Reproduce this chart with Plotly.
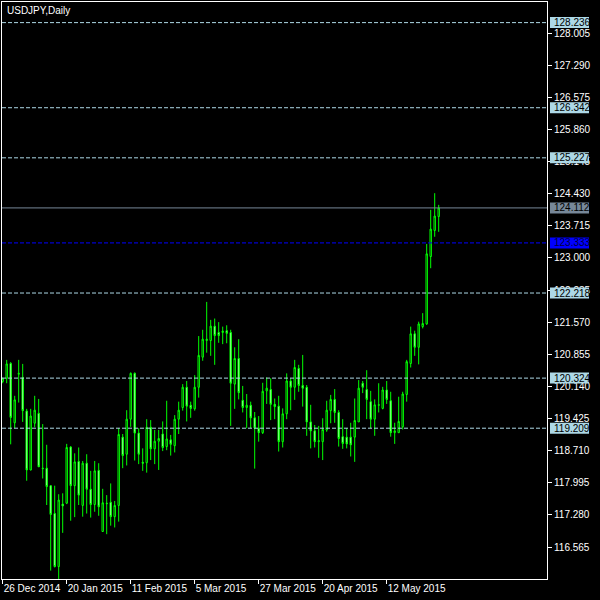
import plotly.graph_objects as go

# ---- data (USDJPY daily) ----
opens = [120.25, 120.32, 120.65, 119.33, 120.41, 120.34, 119.59, 118.28, 119.32, 119.54,
         118.32, 118.32, 117.93, 117.31, 116.13, 117.52, 117.54, 118.79, 117.93, 118.47,
         117.49, 118.43, 117.85, 117.51, 118.27, 116.91, 117.54, 117.56, 117.24, 117.49,
         119.01, 118.63, 119.41, 120.43, 119.10, 118.45, 118.44, 119.23, 118.75, 118.92,
         119.08, 118.80, 118.95, 118.82, 119.41, 119.67, 120.12, 119.72, 119.64, 120.12,
         120.79, 121.16, 121.16, 121.48, 121.34, 121.34, 121.38, 121.34, 120.19, 120.76,
         119.83, 119.67, 119.72, 119.44, 119.21, 119.11, 120.04, 120.07, 119.74, 119.70,
         118.91, 119.53, 120.26, 120.12, 120.54, 120.16, 120.12, 119.35, 119.15, 118.91,
         118.91, 119.17, 119.60, 119.85, 119.56, 119.02, 119.01, 119.01, 119.01, 119.35,
         120.21, 120.07, 119.80, 119.41, 119.72, 119.65, 120.06, 119.82, 119.11, 119.11,
         119.24, 119.96, 120.65, 121.31, 121.01, 121.47, 121.53, 123.03, 123.61, 123.92]
highs = [120.33, 120.73, 120.68, 119.93, 120.73, 120.64, 119.64, 119.64, 119.93, 119.86,
         119.30, 118.84, 117.93, 117.93, 117.74, 117.76, 118.86, 118.81, 118.65, 118.78,
         118.48, 118.63, 118.26, 118.48, 118.43, 117.86, 117.72, 117.98, 117.59, 119.21,
         119.08, 119.61, 120.45, 120.45, 119.21, 118.76, 119.41, 119.39, 119.17, 119.17,
         119.36, 119.82, 119.06, 119.50, 119.80, 120.19, 120.26, 119.80, 120.39, 121.26,
         121.40, 122.02, 121.62, 121.65, 121.57, 121.47, 121.50, 121.40, 121.01, 121.19,
         120.15, 119.97, 119.80, 119.57, 119.48, 120.22, 120.34, 120.32, 119.87, 119.93,
         119.65, 120.43, 120.32, 120.73, 120.62, 120.84, 120.17, 119.73, 119.28, 119.26,
         119.43, 119.82, 119.95, 120.08, 119.61, 119.41, 119.21, 119.33, 119.87, 120.28,
         120.26, 120.50, 120.04, 119.85, 120.21, 120.13, 120.26, 120.02, 119.33, 119.91,
         120.02, 120.73, 121.47, 121.38, 121.58, 121.77, 123.31, 124.07, 124.44, 124.18]
lows = [120.21, 120.21, 118.85, 119.21, 119.78, 119.35, 118.04, 118.27, 119.23, 118.35,
        118.09, 117.50, 116.04, 116.11, 115.85, 116.88, 117.52, 117.15, 117.23, 117.50,
        117.24, 117.31, 117.22, 117.35, 117.26, 116.91, 116.85, 117.04, 117.00, 117.13,
        118.32, 118.38, 119.24, 118.49, 118.41, 118.26, 118.22, 118.50, 118.41, 118.28,
        118.70, 118.72, 118.60, 118.67, 119.08, 119.60, 119.36, 119.44, 119.60, 119.89,
        120.71, 120.89, 120.82, 120.62, 121.11, 121.08, 121.10, 119.26, 119.64, 119.85,
        119.56, 119.21, 119.21, 118.31, 118.91, 119.08, 119.75, 119.39, 119.41, 118.69,
        118.78, 119.41, 119.61, 119.84, 120.02, 119.69, 119.04, 118.76, 118.78, 118.55,
        118.50, 119.13, 119.32, 119.33, 118.80, 118.75, 118.76, 118.58, 118.46, 119.35,
        119.99, 119.41, 119.21, 119.04, 119.56, 119.63, 119.75, 119.02, 118.86, 119.11,
        119.18, 119.80, 120.56, 120.82, 120.63, 121.43, 121.51, 122.77, 123.47, 123.58]
closes = [120.32, 120.64, 119.45, 119.84, 120.43, 119.60, 118.28, 119.48, 119.61, 118.35,
          118.31, 117.91, 117.29, 116.13, 117.61, 117.48, 118.78, 117.93, 118.46, 117.72,
          118.43, 117.85, 117.51, 118.26, 117.46, 117.55, 117.53, 117.24, 117.49, 119.07,
          118.60, 119.41, 120.43, 119.10, 118.63, 118.43, 119.23, 118.75, 118.92, 118.98,
          118.78, 118.97, 118.85, 119.41, 119.61, 120.12, 119.70, 119.65, 120.12, 120.83,
          121.19, 121.19, 121.48, 121.27, 121.27, 121.37, 121.32, 120.21, 120.76, 120.00,
          119.67, 119.72, 119.44, 119.21, 119.11, 120.03, 120.10, 119.74, 119.69, 118.91,
          119.53, 120.26, 120.12, 120.56, 120.16, 120.10, 119.35, 119.15, 118.91, 118.93,
          119.18, 119.61, 119.85, 119.56, 118.98, 118.87, 118.86, 118.84, 119.38, 120.10,
          120.12, 119.85, 119.41, 119.73, 119.73, 120.06, 119.85, 119.11, 119.15, 119.36,
          119.97, 120.69, 121.31, 121.01, 121.53, 121.54, 123.09, 123.64, 123.93, 124.11]

date_tick_pos = [0, 16, 32, 48, 64, 80, 96]
date_tick_labels = ["26 Dec 2014", "20 Jan 2015", "11 Feb 2015", "5 Mar 2015",
                    "27 Mar 2015", "20 Apr 2015", "12 May 2015"]
price_ticks = [116.565, 117.280, 117.995, 118.710, 119.425, 120.140, 120.855, 121.570,
               122.285, 123.000, 123.715, 124.430, 125.145, 125.860, 126.575, 127.290, 128.005]
level_lines = [128.236, 126.342, 125.227, 122.218, 120.324, 119.209]
bid_level = 124.112
blue_level = 123.333
title_text = "USDJPY,Daily"

FONT = "Liberation Sans, Arial, sans-serif"
GREEN = "#00ff00"
LBLUE = "#add8e6"
SLATE = "#778899"
BLUE = "#0000ff"

fig = go.Figure(go.Candlestick(
    x=list(range(len(opens))), open=opens, high=highs, low=lows, close=closes,
    increasing=dict(line=dict(color=GREEN, width=1), fillcolor="black"),
    decreasing=dict(line=dict(color=GREEN, width=1), fillcolor="white"),
    whiskerwidth=0, hoverinfo="skip", showlegend=False,
))

shapes = []
annotations = []


def add_level(value, color, dash, box_color, text_color):
    shapes.append(dict(type="line", xref="paper", x0=0, x1=1, yref="y", y0=value, y1=value,
                       line=dict(color=color, width=1, dash=dash), layer="above"))
    shapes.append(dict(type="rect", xref="paper", xsizemode="pixel", xanchor=1, x0=3, x1=42,
                       yref="y", ysizemode="pixel", yanchor=value, y0=-5.5, y1=5.5,
                       fillcolor=box_color, line=dict(width=0), layer="above"))
    annotations.append(dict(text=f"{value:.3f}", xref="paper", x=1, xanchor="left", xshift=5,
                            yref="y", y=value, yanchor="middle", showarrow=False,
                            font=dict(family=FONT, size=10, color=text_color)))


for v in level_lines:
    add_level(v, LBLUE, "4px,2px", LBLUE, "black")
add_level(blue_level, BLUE, "4px,2px", BLUE, "#000040")
add_level(bid_level, SLATE, "solid", SLATE, "black")

annotations.append(dict(text=title_text, xref="paper", x=0, xanchor="left", xshift=3,
                        yref="paper", y=1, yanchor="top", yshift=-1, showarrow=False,
                        font=dict(family=FONT, size=10, color="white")))

fig.update_layout(
    width=600, height=600,
    margin=dict(l=2, r=53, t=2, b=21, autoexpand=False),
    paper_bgcolor="black", plot_bgcolor="black",
    showlegend=False, boxgap=0.5,
    shapes=shapes, annotations=annotations,
    font=dict(family=FONT, size=10, color="white"),
    xaxis=dict(range=[-0.175, 136.075], rangeslider=dict(visible=False),
               tickmode="array", tickvals=date_tick_pos, ticktext=date_tick_labels,
               ticks="outside", ticklen=4, tickcolor="white", ticklabelposition="outside right",
               tickangle=0, automargin=False,
               showline=True, linecolor="white", linewidth=1, mirror=True,
               showgrid=False, zeroline=False,
               tickfont=dict(family=FONT, size=10, color="white")),
    yaxis=dict(range=[115.853, 128.695], side="right", automargin=False,
               tickmode="array", tickvals=price_ticks, ticktext=[f"{t:.3f}" for t in price_ticks],
               ticks="outside", ticklen=4, tickcolor="white",
               showline=True, linecolor="white", linewidth=1, mirror=True,
               showgrid=False, zeroline=False,
               tickfont=dict(family=FONT, size=10, color="white")),
)

fig.write_html("out.html", config={"displayModeBar": False},
               post_script="document.body.style.margin='0';document.body.style.background='black';")
